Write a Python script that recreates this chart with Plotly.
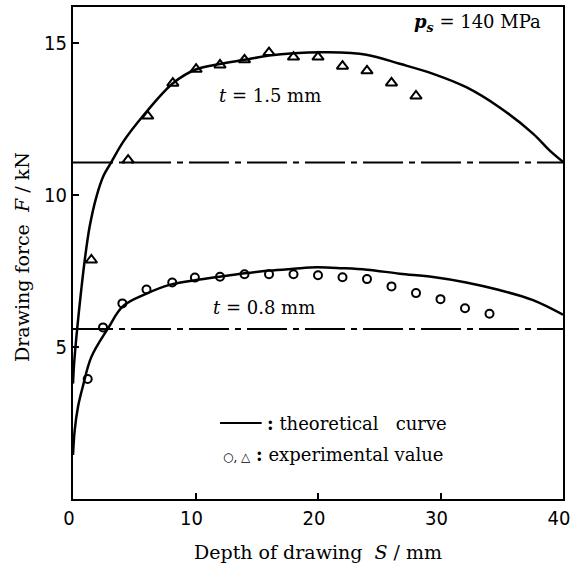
import plotly.graph_objects as go

# ---- data ----
# theoretical curve, t = 1.5 mm
theo15_s = [0.0, 0.08, 0.33, 0.65, 0.96, 1.36, 1.91, 2.5, 3.13, 4.08, 5.71, 8.16, 10.07, 11.98, 14.0, 16.0, 18.0, 20.7, 23.95, 26.67, 29.4, 32.1, 34.8, 37.55, 38.9, 40.0]
theo15_f = [3.8, 4.4, 5.56, 6.8, 7.87, 8.97, 9.95, 10.65, 11.09, 11.75, 12.61, 13.69, 14.15, 14.32, 14.46, 14.6, 14.68, 14.71, 14.63, 14.33, 14.0, 13.56, 12.9, 12.03, 11.48, 11.1]

# theoretical curve, t = 0.8 mm
theo08_s = [0.0, 0.14, 0.41, 0.8, 1.5, 2.86, 4.08, 5.99, 7.89, 10.07, 11.98, 14.0, 16.0, 18.0, 19.9, 22.0, 24.0, 26.67, 29.4, 32.1, 34.8, 37.55, 40.0]
theo08_f = [1.45, 2.27, 3.04, 3.7, 4.68, 5.62, 6.35, 6.76, 7.05, 7.21, 7.32, 7.43, 7.52, 7.58, 7.63, 7.6, 7.55, 7.42, 7.31, 7.13, 6.88, 6.55, 6.07]

# experimental values, t = 1.5 mm (triangles)
exp15_s = [1.5, 4.5, 6.1, 8.15, 10.05, 12.0, 14.0, 16.0, 18.0, 20.0, 22.0, 24.0, 26.0, 28.0]
exp15_f = [7.87, 11.16, 12.61, 13.69, 14.15, 14.29, 14.46, 14.7, 14.55, 14.55, 14.25, 14.1, 13.7, 13.27]

# experimental values, t = 0.8 mm (circles)
exp08_s = [1.2, 2.45, 4.03, 6.0, 8.1, 9.95, 12.0, 14.0, 16.0, 18.0, 20.0, 22.0, 24.0, 26.0, 28.0, 30.0, 32.0, 34.0]
exp08_f = [3.95, 5.65, 6.44, 6.9, 7.13, 7.29, 7.32, 7.4, 7.4, 7.4, 7.37, 7.3, 7.24, 7.0, 6.78, 6.58, 6.28, 6.1]

# dash-dot reference levels
ref_levels = [11.08, 5.6]
s_span = [0.0, 40.0]

x_ticks = [0, 10, 20, 30, 40]
y_ticks = [5, 10, 15]

SERIF = "DejaVu Serif, Liberation Serif, serif"
SANS = "Liberation Sans Narrow, DejaVu Sans Condensed, Roboto Condensed, Liberation Sans, sans-serif"

fig = go.Figure()

for lvl in ref_levels:
    fig.add_trace(go.Scatter(x=s_span, y=[lvl, lvl], mode="lines",
                             line=dict(color="black", width=2, dash="40px,6px,6px,6px"),
                             showlegend=False, hoverinfo="skip"))

for xs, ys in ((theo15_s, theo15_f), (theo08_s, theo08_f)):
    fig.add_trace(go.Scatter(x=xs, y=ys, mode="lines",
                             line=dict(color="black", width=2.5, shape="spline", smoothing=1.0),
                             showlegend=False))

fig.add_trace(go.Scatter(x=exp15_s, y=exp15_f, mode="markers",
                         marker=dict(symbol="triangle-up-open", size=10, color="black",
                                     line=dict(width=2, color="black")),
                         showlegend=False))
fig.add_trace(go.Scatter(x=exp08_s, y=exp08_f, mode="markers",
                         marker=dict(symbol="circle-open", size=8, color="black",
                                     line=dict(width=2, color="black")),
                         showlegend=False))

axis_common = dict(showgrid=False, zeroline=False, showline=True, linecolor="black",
                   linewidth=2, mirror=True, ticks="inside", ticklen=6, tickwidth=1.5,
                   tickcolor="black", automargin=False, ticklabeloverflow="allow",
                   tickfont=dict(family=SANS, size=20, color="black"))

fig.update_xaxes(range=[0, 40], tickvals=x_ticks, ticklabelshift=-4, **axis_common)
fig.update_yaxes(range=[0, 16.2], tickvals=y_ticks, **axis_common)

W, H = 570, 570
ml, mr, mt, mb = 73, 7, 7, 71
pw, ph = W - ml - mr, H - mt - mb

annos = [
    dict(x=38.4, y=15.67, xanchor="right", text="<b><i>p</i></b><sub><b><i>s</i></b></sub> = 140 MPa",
         font=dict(family=SERIF, size=18)),
    dict(x=16.06, y=13.3, text="<i>t</i> = 1.5 mm", font=dict(family=SERIF, size=18)),
    dict(x=15.6, y=6.32, text="<i>t</i> = 0.8 mm", font=dict(family=SERIF, size=18)),
    dict(x=15.67, y=2.5, xanchor="left", text="<b>:</b> theoretical   curve",
         font=dict(family=SERIF, size=18)),
    dict(x=12.07, y=1.48, xanchor="left",
         text="<span style='font-size:12px'>○, △</span> <b>:</b> experimental value",
         font=dict(family=SERIF, size=18)),
    dict(xref="paper", yref="paper", x=0.5, y=(H - mb - 552) / ph,
         text="Depth of drawing  <i>S</i> / mm", font=dict(family=SERIF, size=19)),
    dict(xref="paper", yref="paper", x=(22 - ml) / pw, y=(H - mb - 257) / ph,
         text="Drawing force  <i>F</i> / kN", textangle=-90, font=dict(family=SERIF, size=19)),
]
for a in annos:
    a.setdefault("xref", "x")
    a.setdefault("yref", "y")
    a.setdefault("xanchor", "center")
    a.setdefault("yanchor", "middle")
    a.update(showarrow=False)
    a["font"]["color"] = "black"

fig.update_layout(
    width=W, height=H, margin=dict(l=ml, r=mr, t=mt, b=mb, autoexpand=False),
    plot_bgcolor="white", paper_bgcolor="white", showlegend=False,
    annotations=annos,
    shapes=[dict(type="line", xref="x", yref="y", x0=12.0, x1=15.4, y0=2.5, y1=2.5,
                 line=dict(color="black", width=2))],
)

fig.write_html("out.html", config={"displayModeBar": False},
               post_script="document.body.style.margin='0';document.body.style.overflow='hidden';")
